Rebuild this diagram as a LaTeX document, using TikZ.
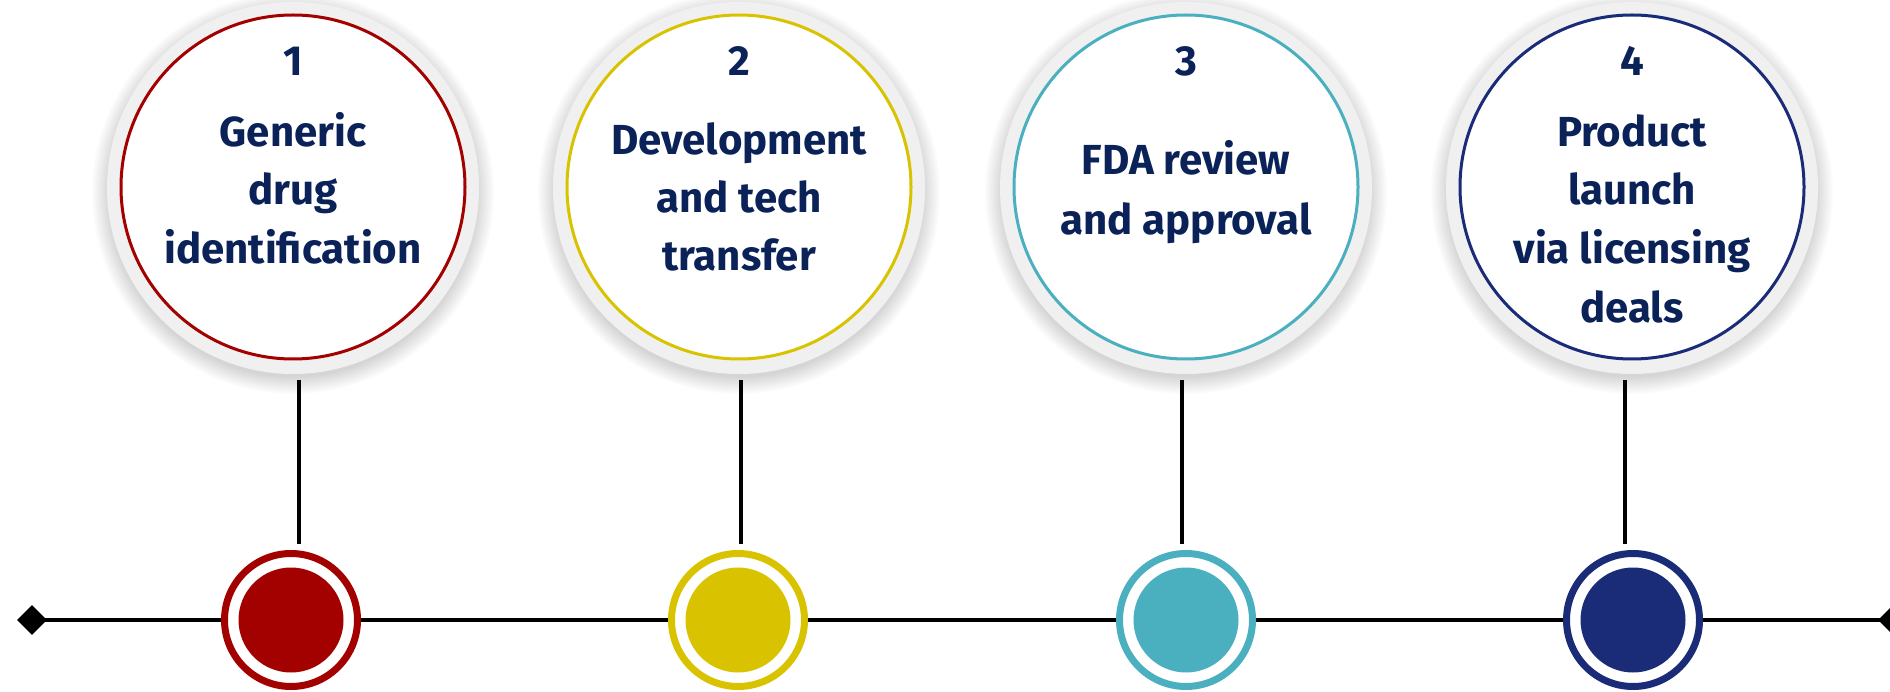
\documentclass[tikz,border=0pt]{standalone}
\usepackage{fontspec}
\setmainfont{Fira Sans}
\usetikzlibrary{shapes.geometric}
\definecolor{cred}{HTML}{A30000}
\definecolor{cyel}{HTML}{D9C300}
\definecolor{cteal}{HTML}{4AAFBF}
\definecolor{cnavy}{HTML}{1A2B78}
\definecolor{ctext}{HTML}{0B2259}
\definecolor{chalo}{HTML}{F0F0F0}
\begin{document}
\begin{tikzpicture}[x=1pt,y=-1pt,
  lbl/.style={anchor=base,inner sep=0pt,text=ctext,font=\fontsize{42}{58}\selectfont\bfseries},
  bigc/.style={circle,draw=#1,line width=3pt,fill=white,minimum size=344pt,inner sep=0pt},
  halo/.style={circle,fill=chalo,minimum size=372pt,inner sep=0pt},
  dotc/.style={circle,draw=#1,line width=7pt,fill=white,minimum size=133pt,inner sep=0pt},
  dotin/.style={circle,fill=#1,minimum size=105pt,inner sep=0pt},
  conn/.style={line width=4pt,black},
  tip/.style={diamond,fill=black,minimum width=30pt,minimum height=30pt,inner sep=0pt}]
\useasboundingbox (0,0) rectangle (1890,692);
% shadows
\foreach \cx in {293,739,1186,1632}{
  \foreach \i in {1,...,14}{
    \fill[black,opacity=0.011] (\cx,193) circle[radius=183+\i*1.3];
  }
}
% halos and big circles
\foreach \cx/\col/\n in {293/cred/1,739/cyel/2,1186/cteal/3,1632/cnavy/4}{
  \node[halo] (h\n) at (\cx,188) {};
  \node[bigc=\col] (c\n) at (\cx,187) {};
}
% timeline
\node[tip] (L) at (32,620) {};
\node[tip] (R) at (1893,620) {};
\draw[conn] (L.center) -- (R.center);
% vertical connectors
\foreach \x/\n in {299/1,741/2,1182/3,1625/4}{
  \coordinate (a\n) at (\x,380);
  \coordinate (b\n) at (\x,544);
  \draw[conn] (a\n) -- (b\n);
}
% bottom dots
\foreach \cx/\col/\n in {291/cred/1,738/cyel/2,1186/cteal/3,1633/cnavy/4}{
  \node[dotc=\col] (d\n) at (\cx,620) {};
  \node[dotin=\col] (e\n) at (\cx,620) {};
}
% texts
\node[lbl] (n1) at (293,76) {1};
\node[lbl] (t1a) at (293,147) {Generic};
\node[lbl] (t1b) at (293,205) {drug};
\node[lbl] (t1c) at (293,264) {identification};
\node[lbl] (n2) at (739,76) {2};
\node[lbl] (t2a) at (739,155) {Development};
\node[lbl] (t2b) at (739,213) {and tech};
\node[lbl] (t2c) at (739,271) {transfer};
\node[lbl] (n3) at (1186,76) {3};
\node[lbl] (t3a) at (1186,175) {FDA review};
\node[lbl] (t3b) at (1186,235) {and approval};
\node[lbl] (n4) at (1632,76) {4};
\node[lbl] (t4a) at (1632,147) {Product};
\node[lbl] (t4b) at (1632,205) {launch};
\node[lbl] (t4c) at (1632,264) {via licensing};
\node[lbl] (t4d) at (1632,323) {deals};
\end{tikzpicture}
\end{document}
